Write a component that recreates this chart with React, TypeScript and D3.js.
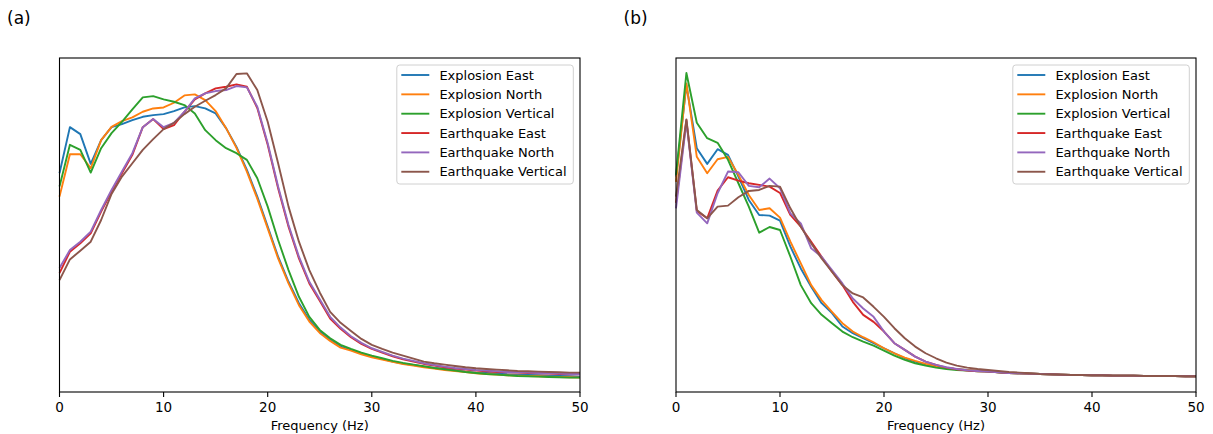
import React from 'react';
import * as d3 from 'd3';

// frequency grid (Hz), one value per Hz
const freqs = d3.range(0, 51);

const seriesNames = [
  'Explosion East',
  'Explosion North',
  'Explosion Vertical',
  'Earthquake East',
  'Earthquake North',
  'Earthquake Vertical',
];

const colors = ['#1f77b4', '#ff7f0e', '#2ca02c', '#d62728', '#9467bd', '#8c564b'];

const xTicks = [0, 10, 20, 30, 40, 50];

// panel (a) spectra, relative amplitude
const explosionEastA = [65.5, 79.3, 77.2, 68.3, 75.4, 79.3, 80.2, 81.4, 82.4, 82.9,
  83.2, 84.1, 85.2, 85.6, 84.9, 83.4, 79.0, 73.4, 66.5, 58.5,
  49.5, 40.5, 33.0, 26.6, 21.6, 18.1, 15.6, 13.6, 12.6, 11.5,
  10.6, 9.9, 9.1, 8.5, 8.1, 7.6, 7.2, 6.9, 6.5, 6.1,
  5.8, 5.7, 5.5, 5.3, 5.2, 5.1, 5.0, 4.9, 4.8, 4.7, 4.6];
const explosionNorthA = [58.5, 71.2, 71.2, 67.0, 75.4, 79.4, 81.1, 82.2, 83.9, 84.9,
  85.2, 86.6, 88.8, 89.1, 87.4, 84.1, 79.0, 73.1, 66.0, 57.9,
  49.0, 40.0, 32.5, 26.0, 21.1, 17.7, 15.3, 13.3, 12.4, 11.3,
  10.4, 9.7, 9.0, 8.4, 7.9, 7.4, 7.0, 6.6, 6.3, 6.0,
  5.6, 5.4, 5.2, 5.0, 4.9, 4.8, 4.7, 4.6, 4.5, 4.4, 4.3];
const explosionVerticalA = [61.5, 74.0, 72.5, 65.7, 73.0, 77.5, 80.9, 84.6, 88.2, 88.6,
  87.6, 86.9, 85.9, 83.4, 78.4, 75.4, 73.0, 71.5, 69.5, 64.0,
  55.5, 45.5, 36.5, 28.5, 22.5, 18.6, 16.1, 14.1, 12.9, 11.8,
  10.9, 10.1, 9.3, 8.7, 8.2, 7.7, 7.2, 6.8, 6.4, 6.0,
  5.7, 5.4, 5.2, 5.0, 4.8, 4.7, 4.6, 4.5, 4.4, 4.3, 4.3];
const earthquakeEastA = [35.6, 42.0, 44.5, 47.5, 54.0, 60.0, 65.5, 71.0, 79.3, 81.7,
  78.7, 79.9, 83.9, 87.6, 89.4, 90.9, 91.4, 92.1, 91.4, 85.0,
  74.0, 61.0, 49.5, 40.0, 32.5, 27.3, 22.0, 18.9, 16.4, 14.4,
  12.9, 11.8, 10.7, 9.8, 9.1, 8.4, 7.9, 7.4, 7.0, 6.7,
  6.4, 6.2, 6.0, 5.9, 5.8, 5.7, 5.6, 5.5, 5.4, 5.3, 5.3];
const earthquakeNorthA = [37.1, 42.5, 45.0, 48.0, 54.5, 60.5, 66.0, 71.5, 79.3, 81.7,
  79.3, 80.6, 83.9, 87.9, 89.4, 90.1, 90.4, 91.6, 91.2, 85.4,
  74.5, 61.5, 50.0, 40.5, 33.0, 27.8, 22.5, 19.3, 16.7, 14.7,
  13.1, 12.0, 10.9, 10.0, 9.3, 8.6, 8.1, 7.6, 7.2, 6.9,
  6.6, 6.4, 6.2, 6.0, 5.9, 5.8, 5.7, 5.6, 5.5, 5.4, 5.4];
const earthquakeVerticalA = [33.5, 39.7, 42.3, 45.0, 51.5, 59.3, 64.5, 68.5, 72.5, 75.7,
  78.7, 80.6, 83.2, 85.4, 87.2, 88.9, 90.9, 95.2, 95.4, 90.4,
  80.9, 68.5, 55.5, 45.0, 36.5, 29.8, 24.0, 20.7, 18.3, 15.9,
  14.1, 12.9, 11.8, 10.9, 10.0, 9.1, 8.6, 8.2, 7.8, 7.4,
  7.1, 6.9, 6.7, 6.5, 6.3, 6.2, 6.1, 6.0, 5.9, 5.8, 5.8];

// panel (b) spectra
const explosionEastB = [64.5, 91.9, 73.0, 68.3, 72.7, 71.0, 64.5, 57.5, 53.0, 52.8,
  51.3, 43.5, 37.0, 31.5, 26.6, 23.6, 19.6, 17.6, 16.1, 14.6,
  13.1, 11.6, 10.1, 9.1, 8.3, 7.6, 7.2, 6.8, 6.6, 6.4,
  6.2, 5.9, 5.7, 5.6, 5.5, 5.4, 5.3, 5.2, 5.1, 5.1,
  5.0, 5.0, 4.9, 4.9, 4.9, 4.8, 4.8, 4.8, 4.8, 4.7, 4.7];
const explosionNorthB = [62.9, 92.4, 70.4, 65.5, 69.7, 70.4, 65.0, 59.0, 54.5, 55.0,
  52.2, 45.0, 38.5, 32.0, 27.5, 24.0, 20.6, 18.1, 16.4, 14.9,
  13.1, 11.6, 10.3, 9.3, 8.4, 7.7, 7.2, 6.8, 6.6, 6.4,
  6.2, 5.9, 5.7, 5.6, 5.5, 5.4, 5.3, 5.2, 5.1, 5.1,
  5.0, 5.0, 4.9, 4.9, 4.9, 4.8, 4.8, 4.8, 4.8, 4.7, 4.7];
const explosionVerticalB = [65.0, 95.5, 80.6, 76.0, 74.6, 69.5, 62.5, 55.5, 47.7, 49.4,
  48.5, 40.5, 32.0, 26.6, 23.1, 20.6, 18.1, 16.4, 15.1, 13.9,
  12.4, 10.9, 9.6, 8.6, 7.9, 7.3, 6.9, 6.6, 6.4, 6.2,
  6.1, 5.9, 5.7, 5.6, 5.5, 5.4, 5.3, 5.2, 5.1, 5.1,
  5.0, 5.0, 4.9, 4.9, 4.9, 4.8, 4.8, 4.8, 4.8, 4.7, 4.7];
const earthquakeEastB = [56.6, 81.4, 54.2, 52.0, 60.3, 64.3, 63.3, 62.5, 62.0, 61.5,
  59.6, 53.0, 49.5, 45.0, 40.5, 36.0, 32.0, 27.0, 23.1, 21.0,
  18.1, 14.6, 12.6, 10.6, 9.1, 8.1, 7.3, 6.8, 6.4, 6.2,
  6.1, 5.9, 5.7, 5.6, 5.5, 5.4, 5.3, 5.2, 5.1, 5.1,
  5.0, 5.0, 4.9, 4.9, 4.9, 4.8, 4.8, 4.8, 4.8, 4.7, 4.7];
const earthquakeNorthB = [55.0, 80.9, 53.7, 50.5, 59.5, 66.0, 65.8, 61.7, 61.3, 63.9,
  61.0, 53.5, 50.5, 43.0, 40.5, 36.5, 32.5, 28.0, 25.0, 22.5,
  18.1, 14.6, 12.6, 10.6, 9.1, 8.1, 7.4, 6.9, 6.5, 6.3,
  6.1, 5.9, 5.7, 5.6, 5.5, 5.4, 5.3, 5.2, 5.1, 5.1,
  5.0, 5.0, 4.9, 4.9, 4.9, 4.8, 4.8, 4.8, 4.8, 4.7, 4.7];
const earthquakeVerticalB = [58.5, 81.6, 54.5, 52.0, 55.5, 55.8, 58.3, 60.2, 60.5, 61.7,
  61.5, 55.0, 49.5, 44.5, 40.0, 36.0, 32.0, 29.5, 28.3, 25.5,
  22.5, 19.1, 16.1, 13.6, 11.6, 10.1, 8.8, 7.9, 7.3, 6.9,
  6.6, 6.3, 6.0, 5.8, 5.6, 5.4, 5.3, 5.2, 5.1, 5.1,
  5.0, 5.0, 4.9, 4.9, 4.9, 4.8, 4.8, 4.8, 4.8, 4.7, 4.7];

const panelA = [explosionEastA, explosionNorthA, explosionVerticalA, earthquakeEastA, earthquakeNorthA, earthquakeVerticalA];
const panelB = [explosionEastB, explosionNorthB, explosionVerticalB, earthquakeEastB, earthquakeNorthB, earthquakeVerticalB];

const font = '"DejaVu Sans", sans-serif';
const top = 58, bottom = 392;

function Panel({ label, left, right, series }) {
  const x = d3.scaleLinear().domain([0, 50]).range([left, right]);
  const y = d3.scaleLinear().domain([0, 100]).range([bottom, top]);
  const line = d3.line<number>().x((d, i) => x(freqs[i])).y(d => y(d));

  const legW = 176.5, legH = 119;
  const legX = right - 6.7 - legW, legY = top + 7;

  return (
    <g>
      <text x={left - 52.5} y={24.4} fontSize={17} fontFamily={font}>{label}</text>
      {series.map((s, i) => (
        <path key={i} d={line(s)} fill="none" stroke={colors[i]} strokeWidth={1.9} strokeLinejoin="round" />
      ))}
      <rect x={left} y={top} width={right - left} height={bottom - top} fill="none" stroke="#000" strokeWidth={1.1} />
      {xTicks.map(t => (
        <g key={t}>
          <line x1={x(t)} x2={x(t)} y1={bottom} y2={bottom + 5} stroke="#000" strokeWidth={1.1} />
          <text x={x(t)} y={411.6} textAnchor="middle" fontSize={13.5} fontFamily={font}>{t}</text>
        </g>
      ))}
      <text x={(left + right) / 2} y={430} textAnchor="middle" fontSize={13} fontFamily={font}>Frequency (Hz)</text>
      <rect x={legX} y={legY} width={legW} height={legH} rx={3} fill="#fff" fillOpacity={0.8} stroke="#d0d0d0" strokeWidth={1} />
      {seriesNames.map((n, i) => {
        const cy = legY + 10 + i * 19.35;
        return (
          <g key={n}>
            <line x1={legX + 4.5} x2={legX + 32.5} y1={cy} y2={cy} stroke={colors[i]} strokeWidth={1.9} />
            <text x={legX + 42.6} y={cy} dominantBaseline="central" fontSize={13} fontFamily={font}>{n}</text>
          </g>
        );
      })}
    </g>
  );
}

export default function App() {
  return (
    <svg width={1213} height={434} style={{ position: 'absolute', left: 0, top: 0, background: '#fff' }}>
      <Panel label="(a)" left={59.5} right={580} series={panelA} />
      <Panel label="(b)" left={676} right={1196} series={panelB} />
    </svg>
  );
}
